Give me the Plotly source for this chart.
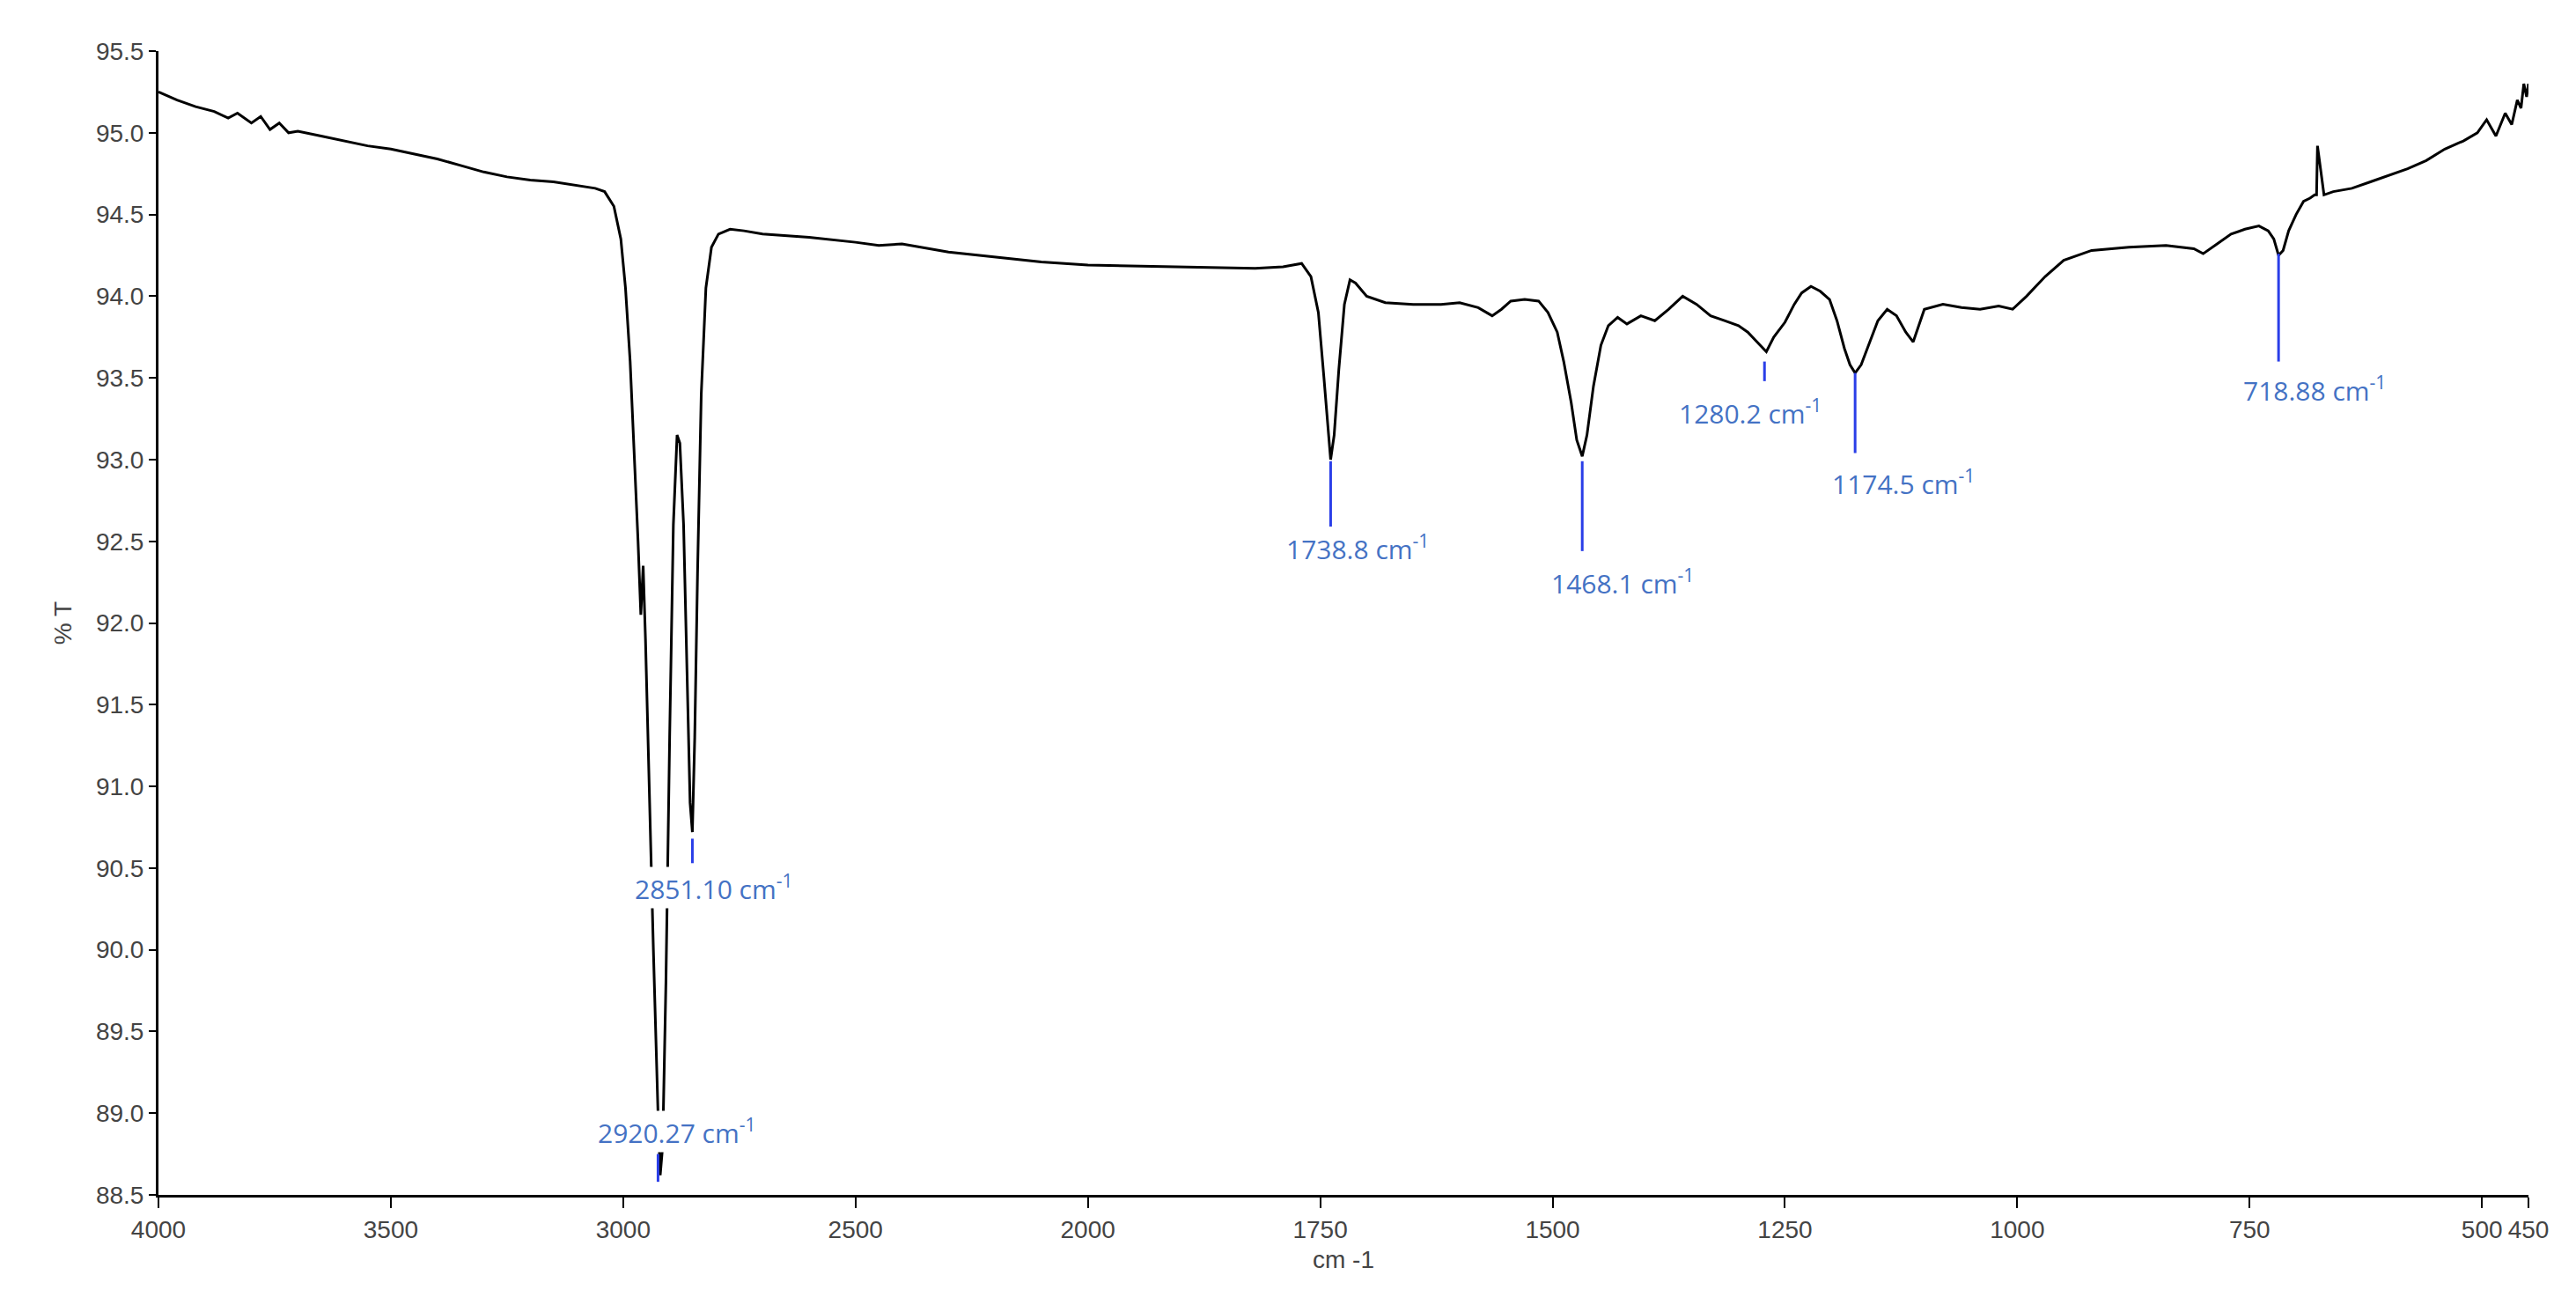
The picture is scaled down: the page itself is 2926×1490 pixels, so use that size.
import plotly.graph_objects as go

# FTIR spectrum (wavenumber cm-1, %T)
wavenumber = [4000, 3960, 3920, 3880, 3850, 3830, 3800, 3780, 3760, 3740, 3720, 3700, 3650, 3600, 3550,
              3500, 3450, 3400, 3350, 3300, 3250, 3200, 3150, 3100, 3060, 3040, 3020, 3005, 2995,
              2985, 2975, 2968, 2962, 2957, 2952, 2945, 2935, 2925, 2920.27, 2915, 2908, 2900,
              2892, 2884, 2878, 2870, 2862, 2856, 2851.1, 2846, 2840, 2832, 2822, 2810, 2795,
              2770, 2740, 2700, 2600, 2500, 2450, 2400, 2300, 2200, 2100, 2000, 1900, 1820,
              1790, 1770, 1760, 1752, 1746, 1741, 1738.8, 1735, 1730, 1724, 1718, 1712, 1700,
              1680, 1650, 1620, 1600, 1580, 1565, 1555, 1545, 1530, 1515, 1505, 1495, 1488,
              1480, 1474, 1468.1, 1463, 1456, 1448, 1440, 1430, 1420, 1405, 1390, 1375, 1360,
              1345, 1330, 1315, 1300, 1290, 1280.2, 1270, 1262, 1250, 1240, 1232, 1222, 1212,
              1202, 1194, 1186, 1180, 1174.5, 1168, 1160, 1150, 1140, 1130, 1120, 1112, 1100,
              1080, 1060, 1040, 1020, 1005, 990, 970, 950, 920, 880, 840, 810, 800, 785, 770,
              755, 740, 730, 724, 718.88, 714, 708, 700, 692, 685, 680, 678, 677, 676, 670,
              660, 640, 620, 600, 580, 560, 540, 520, 505, 495, 485, 475, 468, 462, 458, 455, 452, 450]
transmittance = [95.25, 95.2, 95.16, 95.13, 95.09, 95.12, 95.06, 95.1, 95.02, 95.06, 95.0, 95.01, 94.98, 94.95, 94.92,
                 94.9, 94.87, 94.84, 94.8, 94.76, 94.73, 94.71, 94.7, 94.68, 94.66, 94.64, 94.55, 94.35, 94.05,
                 93.6, 93.0, 92.5, 92.05, 92.35, 91.9, 91.1, 90.0, 89.0, 88.62, 88.8, 89.8, 91.3,
                 92.6, 93.15, 93.1, 92.6, 91.6, 90.9, 90.72, 91.3, 92.3, 93.4, 94.05, 94.3, 94.38,
                 94.41, 94.4, 94.38, 94.36, 94.33, 94.31, 94.32, 94.27, 94.24, 94.21, 94.19, 94.18, 94.17,
                 94.18, 94.2, 94.12, 93.9, 93.5, 93.12, 93.0, 93.15, 93.55, 93.95, 94.1, 94.08, 94.0,
                 93.96, 93.95, 93.95, 93.96, 93.93, 93.88, 93.92, 93.97, 93.98, 93.97, 93.9, 93.78, 93.6,
                 93.35, 93.12, 93.02, 93.15, 93.45, 93.7, 93.82, 93.87, 93.83, 93.88, 93.85, 93.92, 94.0,
                 93.95, 93.88, 93.85, 93.82, 93.78, 93.72, 93.66, 93.75, 93.84, 93.95, 94.02, 94.06, 94.03,
                 93.98, 93.85, 93.68, 93.58, 93.53, 93.58, 93.7, 93.85, 93.92, 93.88, 93.78, 93.72, 93.92,
                 93.95, 93.93, 93.92, 93.94, 93.92, 94.0, 94.12, 94.22, 94.28, 94.3, 94.31, 94.29, 94.26,
                 94.32, 94.38, 94.41, 94.43, 94.4, 94.35, 94.25, 94.28, 94.4, 94.5, 94.58, 94.6, 94.62,
                 94.62, 94.92, 94.88, 94.62, 94.64, 94.66, 94.7, 94.74, 94.78, 94.83, 94.9, 94.95, 95.0,
                 95.08, 94.98, 95.12, 95.05, 95.2, 95.15, 95.3, 95.22, 95.3, 95.25]

# peak labels
peak_text = ["2920.27 cm<sup>-1</sup>", "2851.10 cm<sup>-1</sup>", "1738.8 cm<sup>-1</sup>", "1468.1 cm<sup>-1</sup>",
             "1280.2 cm<sup>-1</sup>", "1174.5 cm<sup>-1</sup>", "718.88 cm<sup>-1</sup>"]
peak_pos = [2925, 2851.1, 1738.8, 1468.1, 1272, 1174.5, 718.88]
label_x = [2885, 2805, 1710, 1425, 1287, 1123, 680]
label_y = [88.89, 90.38, 92.46, 92.25, 93.29, 92.86, 93.43]
line_top = [88.75, 90.68, 92.99, 92.99, 93.6, 93.53, 94.26]
line_bottom = [88.58, 90.53, 92.59, 92.44, 93.48, 93.04, 93.6]

x_ticks = [4000, 3500, 3000, 2500, 2000, 1750, 1500, 1250, 1000, 750, 500, 450]
y_ticks = [88.5 + 0.5 * i for i in range(15)]


def to_axis(w):
    # instrument axis changes scale at 2000 cm-1 (500 per division above, 250 below)
    return (4000 - w) / 500 if w >= 2000 else 4 + (2000 - w) / 250


fig = go.Figure()
fig.add_trace(go.Scatter(x=[to_axis(w) for w in wavenumber], y=transmittance, mode="lines",
                         line=dict(color="black", width=3), showlegend=False))

for w, top, bot in zip(peak_pos, line_top, line_bottom):
    fig.add_shape(type="line", x0=to_axis(w), x1=to_axis(w), y0=top, y1=bot,
                  line=dict(color="#2a3ee8", width=3))
for t, lx, ly in zip(peak_text, label_x, label_y):
    fig.add_annotation(x=to_axis(lx), y=ly, text=t, showarrow=False, bgcolor="white",
                       font=dict(family="Open Sans, Liberation Sans", size=30, color="#4472c4"))

axis_font = dict(family="Liberation Sans Narrow, Liberation Sans, Arial", size=28, color="#444444")
fig.update_layout(
    width=2926, height=1490, paper_bgcolor="white", plot_bgcolor="white",
    margin=dict(l=172, r=62, t=50, b=141),
    xaxis=dict(range=[to_axis(4000), to_axis(450)], tickvals=[to_axis(v) for v in x_ticks],
               ticktext=[str(v) for v in x_ticks], tickangle=0, showgrid=False, zeroline=False,
               showline=True, linecolor="black", linewidth=3, ticks="outside", ticklen=12,
               tickwidth=2, tickcolor="black", tickfont=axis_font,
               title=dict(text="cm -1", font=axis_font, standoff=10)),
    yaxis=dict(range=[88.5, 95.5], tickvals=y_ticks, ticktext=[f"{v:.1f}" for v in y_ticks],
               showgrid=False, zeroline=False, showline=True, linecolor="black", linewidth=3,
               ticks="outside", ticklen=8, tickwidth=2, tickcolor="black", tickfont=axis_font,
               title=dict(text="% T", font=axis_font, standoff=20)),
)

fig.write_html("out.html")
